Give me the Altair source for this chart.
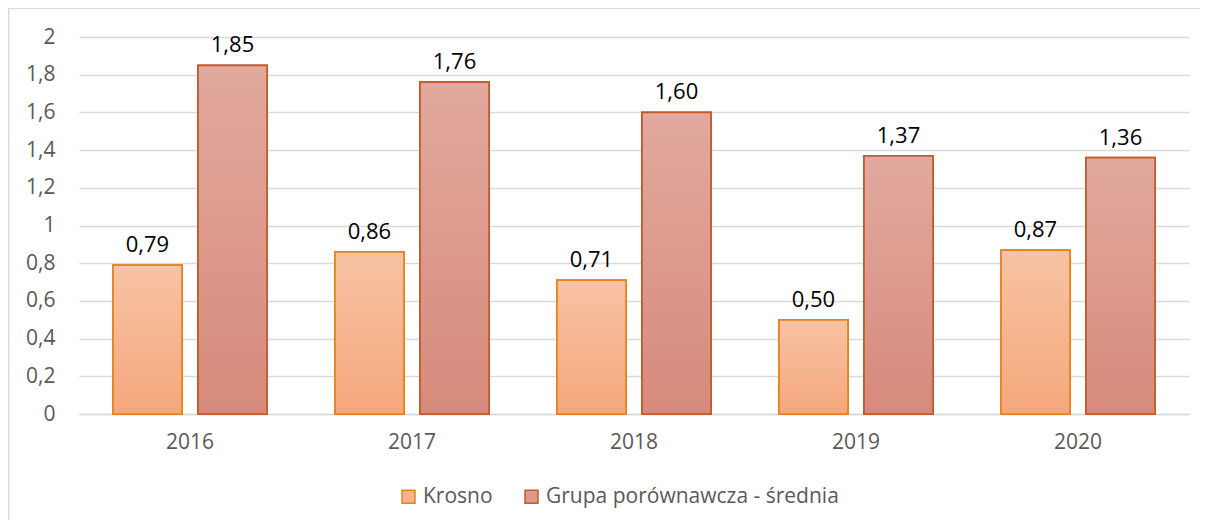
import altair as alt
import pandas as pd

years = ["2016", "2017", "2018", "2019", "2020"]
series = ["Krosno", "Grupa porównawcza - średnia"]
krosno = [0.79, 0.86, 0.71, 0.50, 0.87]
grupa = [1.85, 1.76, 1.60, 1.37, 1.36]

rows = []
for i, y in enumerate(years):
    rows.append({"year": y, "series": series[0], "value": krosno[i]})
    rows.append({"year": y, "series": series[1], "value": grupa[i]})
df = pd.DataFrame(rows)

FONT = "Open Sans"
GRAY = "#595959"
fills = ["#f5b48e", "#dc9a8d"]
strokes = ["#e8821e", "#c55a2b"]

x_enc = alt.X(
    "year:N",
    sort=years,
    scale=alt.Scale(paddingInner=0.306, paddingOuter=0.153),
    axis=alt.Axis(
        title=None, labelAngle=0, ticks=False, labelPadding=17,
        labelFontSize=21, labelColor=GRAY, labelFont=FONT,
        domainColor="#d9d9d9", domainWidth=1.5, grid=False,
    ),
)
xo_enc = alt.XOffset("series:N", sort=series,
                     scale=alt.Scale(paddingInner=0.188, paddingOuter=0))
y_enc = alt.Y(
    "value:Q",
    scale=alt.Scale(domain=[0, 2], nice=False),
    axis=alt.Axis(
        title=None, values=[0, 0.2, 0.4, 0.6, 0.8, 1, 1.2, 1.4, 1.6, 1.8, 2],
        labelExpr="replace(format(datum.value, '.1~f'), '.', ',')",
        ticks=False, domain=False, labelPadding=24,
        labelFontSize=21, labelColor=GRAY, labelFont=FONT,
        gridColor="#d9d9d9", gridWidth=1.3,
    ),
)

base = alt.Chart(df).encode(x=x_enc, xOffset=xo_enc, y=y_enc)

frame = alt.Chart(pd.DataFrame({"a": [0]})).mark_rect(
    fill="transparent", stroke="#d9d9d9", strokeWidth=1.5
).encode(
    x=alt.value(-70.3), x2=alt.value(1300),
    y=alt.value(-28.8), y2=alt.value(700),
)

legend_bars = base.mark_bar(strokeWidth=1.75).encode(
    color=alt.Color("series:N", sort=series,
                    scale=alt.Scale(domain=series, range=fills),
                    legend=alt.Legend(title=None)),
    stroke=alt.Stroke("series:N", sort=series,
                      scale=alt.Scale(domain=series, range=strokes),
                      legend=alt.Legend(title=None)),
)

def grad(top, bottom):
    return alt.Gradient(
        gradient="linear",
        stops=[alt.GradientStop(color=top, offset=0),
               alt.GradientStop(color=bottom, offset=1)],
        x1=0, x2=0, y1=0, y2=1,
    )

bars_k = base.transform_filter(alt.datum.series == series[0]).mark_bar(
    fill=grad("#f7c3a4", "#f5a77b"), stroke=strokes[0], strokeWidth=1.75
)
bars_g = base.transform_filter(alt.datum.series == series[1]).mark_bar(
    fill=grad("#e2a99e", "#d68a7b"), stroke=strokes[1], strokeWidth=1.75
)

labels = base.transform_calculate(
    label="replace(format(datum.value, '.2f'), '.', ',')"
).mark_text(
    baseline="bottom", dy=-8, fontSize=22, font=FONT, color="#000000"
).encode(text="label:N")

chart = alt.layer(frame, legend_bars, bars_k, bars_g, labels).properties(
    width=1110, height=377,
    autosize=alt.AutoSizeParams(type="none"),
    padding={"left": 71, "top": 29, "right": 11, "bottom": 106},
).configure_view(stroke=None).configure_legend(
    orient="none", legendX=319, legendY=449, direction="horizontal",
    symbolType="square", symbolSize=169, symbolStrokeWidth=1.5,
    labelFontSize=21, labelColor=GRAY, labelFont=FONT, labelLimit=0,
    columnPadding=28, labelOffset=4,
)

chart.save("out.html", embed_options={"renderer": "svg", "actions": False})
